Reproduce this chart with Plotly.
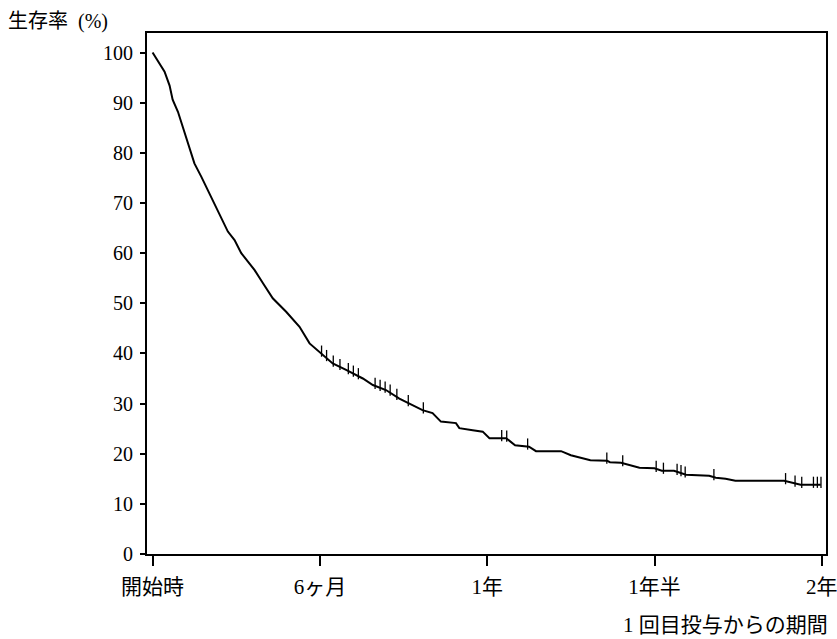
import numpy as np
import plotly.graph_objects as go

# --- data (months since first dose, survival %) ---
months = [0.0, 0.19, 0.43, 0.61, 0.72, 0.91, 1.15, 1.33, 1.5, 1.75, 1.98, 2.22, 2.46, 2.7, 2.94,
          3.18, 3.42, 3.66, 3.96, 4.31, 4.79, 5.27, 5.63, 5.99, 6.46, 6.94, 7.54, 7.9, 8.37,
          8.85, 9.2, 9.68, 10.04, 10.34, 10.88, 11.0, 11.48, 11.84, 12.08, 12.68, 13.0, 13.5,
          13.75, 14.65, 15.0, 15.2, 15.7, 16.3, 16.4, 16.8, 17.1, 17.46, 18.0, 18.26, 18.7,
          19.13, 19.96, 20.2, 20.55, 20.9, 22.65, 22.98, 23.24, 23.96]
survival = [100.0, 98.2, 96.2, 93.4, 90.6, 88.2, 83.9, 80.6, 77.9, 75.2, 72.6, 69.9, 67.3, 64.3, 62.6,
            60.0, 58.3, 56.6, 54.0, 51.0, 48.3, 45.3, 42.0, 40.3, 38.0, 36.7, 35.0, 33.7, 32.7,
            31.0, 30.0, 28.7, 28.1, 26.4, 26.1, 25.1, 24.7, 24.4, 23.1, 23.1, 21.7, 21.4,
            20.5, 20.5, 19.7, 19.4, 18.7, 18.6, 18.3, 18.2, 17.7, 17.2, 17.1, 16.6, 16.6,
            15.8, 15.6, 15.2, 15.0, 14.6, 14.6, 14.1, 13.8, 13.8]
censor_months = [6.06, 6.24, 6.48, 6.72, 7.02, 7.2, 7.38, 7.98, 8.16, 8.34, 8.52, 8.76, 9.17, 9.71,
                 12.52, 12.7, 13.45, 16.29, 16.86, 18.06, 18.32, 18.81, 18.95, 19.1, 20.13,
                 22.7, 23.04, 23.28, 23.7, 23.84, 23.97]

tick_vals = [0, 6, 12, 18, 24]
tick_text = ["開始時", "6ヶ月", "1年", "1年半", "2年"]
y_ticks = [0, 10, 20, 30, 40, 50, 60, 70, 80, 90, 100]

FONT = "Liberation Serif, 'Noto Sans CJK JP', serif"

censor_y = np.interp(censor_months, months, survival) + 0.5

fig = go.Figure()
fig.add_trace(go.Scatter(x=months, y=survival, mode="lines",
                         line=dict(color="black", width=2), showlegend=False, hoverinfo="skip"))
fig.add_trace(go.Scatter(x=censor_months, y=censor_y, mode="markers",
                         marker=dict(symbol="line-ns", size=8, line=dict(color="black", width=1.3)),
                         showlegend=False, hoverinfo="skip"))

fig.update_layout(
    width=837, height=639, autosize=False,
    margin=dict(l=147, r=11, t=33, b=85, autoexpand=False),
    paper_bgcolor="white", plot_bgcolor="white",
    font=dict(family=FONT, color="black", size=20),
)
fig.update_xaxes(range=[-0.2, 24.15], tickvals=tick_vals, ticktext=tick_text, automargin=False,
                 showgrid=False, zeroline=False, showline=True, linecolor="black", linewidth=2,
                 mirror=True, ticks="outside", ticklen=10, tickwidth=1.5, tickcolor="black",
                 tickfont=dict(size=21), ticklabelstandoff=3, ticklabeloverflow="allow")
fig.update_yaxes(range=[0, 103.9], tickvals=y_ticks, automargin=False,
                 showgrid=False, zeroline=False, showline=True, linecolor="black", linewidth=2,
                 mirror=True, ticks="outside", ticklen=5, tickwidth=1.5, tickcolor="black",
                 tickfont=dict(size=20), ticklabelstandoff=3)

fig.add_annotation(text="生存率\u00a0 (%)", xref="paper", yref="paper", x=-0.207, y=1.023,
                   xanchor="left", yanchor="middle", showarrow=False, font=dict(size=20))
fig.add_annotation(text="1\u00a0回目投与からの期間", xref="paper", yref="paper", x=1.006, y=-0.136,
                   xanchor="right", yanchor="middle", showarrow=False, font=dict(size=21))

# remove the default page margin so the 837x639 figure fills the window exactly
fig.write_html("out.html",
               config={"responsive": False, "displayModeBar": False},
               post_script="document.body.style.margin='0px';document.body.style.overflow='hidden';")
